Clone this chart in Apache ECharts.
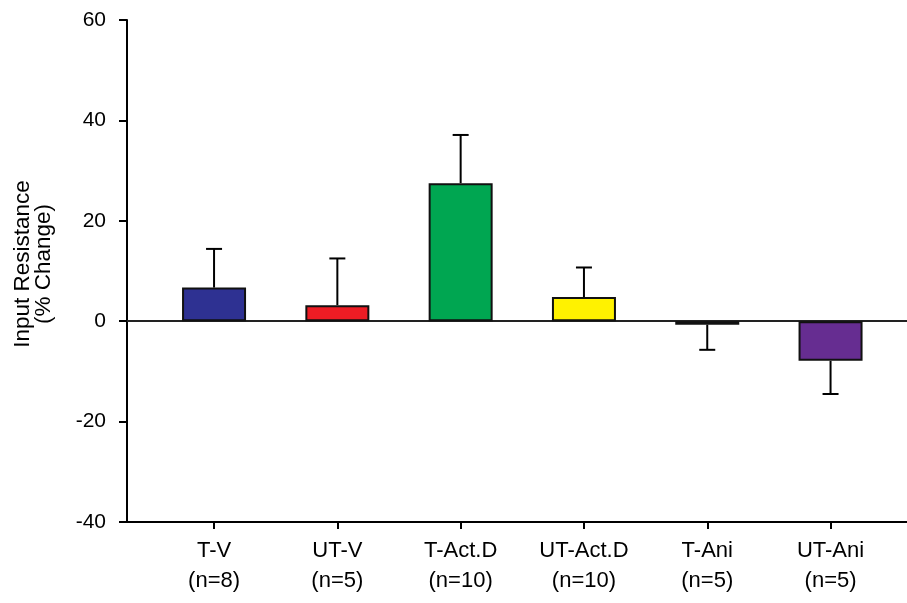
<!DOCTYPE html>
<html>
<head>
<meta charset="utf-8">
<script src="https://cdn.jsdelivr.net/npm/echarts@6/dist/echarts.min.js"></script>
<style>
html,body{margin:0;padding:0;background:#fff;}
#chart{width:907px;height:603px;}
</style>
</head>
<body>
<div id="chart"></div>
<script>
// ---- data ----
const categories = ['T-V', 'UT-V', 'T-Act.D', 'UT-Act.D', 'T-Ani', 'UT-Ani'];
const sampleSizes = ['(n=8)', '(n=5)', '(n=10)', '(n=10)', '(n=5)', '(n=5)'];
const means = [6.7, 3.2, 27.5, 4.8, -0.7, -7.9];
const errors = [7.7, 9.3, 9.6, 5.9, 5.0, 6.6];
const barColors = ['#2E3192', '#ED1C24', '#00A651', '#FFF200', '#9E1F63', '#662D91'];
const yMin = -40, yMax = 60, yStep = 20;
const yTitle = ['Input Resistance', '(% Change)'];

const FONT = 'Liberation Sans, Arial, Helvetica, sans-serif';
const chart = echarts.init(document.getElementById('chart'), null, {renderer: 'canvas'});

const gridTop = 20, gridBottom = 81;
const option = {
  backgroundColor: '#ffffff',
  animation: false,
  grid: [
    {left: 127, right: 0, top: gridTop, bottom: gridBottom},
    {left: 127, right: 0, top: gridTop, bottom: gridBottom},
    {left: 152.4, right: 14.8, top: gridTop, bottom: gridBottom}
  ],
  xAxis: [
    {gridIndex: 0, type: 'value', min: 0, max: 1, position: 'bottom',
     axisLine: {show: true, onZero: false, lineStyle: {color: '#000', width: 2}},
     axisTick: {show: false}, axisLabel: {show: false}, splitLine: {show: false}},
    {gridIndex: 1, type: 'value', min: 0, max: 1,
     axisLine: {show: true, onZero: true, lineStyle: {color: '#222', width: 2}},
     axisTick: {show: false}, axisLabel: {show: false}, splitLine: {show: false}},
    {gridIndex: 2, type: 'category', data: categories, position: 'bottom',
     axisLine: {show: false, onZero: false},
     axisTick: {show: true, alignWithLabel: true, length: 7, lineStyle: {color: '#000', width: 2}},
     axisLabel: {
       show: true, margin: 14, color: '#000', fontFamily: FONT, fontSize: 22, lineHeight: 30,
       formatter: function (v, i) { return v + '\n' + sampleSizes[i]; }
     },
     splitLine: {show: false}}
  ],
  yAxis: [
    {gridIndex: 0, type: 'value', min: yMin, max: yMax, interval: yStep,
     name: yTitle.join('\n'), nameLocation: 'middle', nameGap: 73, nameRotate: 90,
     nameTextStyle: {color: '#000', fontFamily: FONT, fontSize: 22.5, lineHeight: 21, padding: [0, 0, 0, 14]},
     axisLine: {show: true, lineStyle: {color: '#000', width: 2}},
     axisTick: {show: true, length: 8, lineStyle: {color: '#000', width: 2}},
     axisLabel: {color: '#000', fontFamily: FONT, fontSize: 21, margin: 21},
     splitLine: {show: false}},
    {gridIndex: 1, type: 'value', min: yMin, max: yMax, interval: yStep, show: false, splitLine: {show: false}},
    {gridIndex: 2, type: 'value', min: yMin, max: yMax, interval: yStep, show: false, splitLine: {show: false}}
  ],
  series: [
    {
      type: 'bar', xAxisIndex: 2, yAxisIndex: 2, barWidth: 64,
      data: means.map(function (v, i) {
        return {value: v, itemStyle: {color: barColors[i], borderColor: '#111', borderWidth: 2}};
      }),
      z: 3
    },
    {
      type: 'custom', xAxisIndex: 2, yAxisIndex: 2, z: 4,
      data: means.map(function (v, i) { return [i, v, errors[i]]; }),
      renderItem: function (params, api) {
        const x = api.value(0), m = api.value(1), e = api.value(2);
        const end = m >= 0 ? m + e : m - e;
        const p0 = api.coord([x, m]);
        const p1 = api.coord([x, end]);
        const half = 8;
        const st = {stroke: '#000', lineWidth: 2};
        return {
          type: 'group',
          children: [
            {type: 'line', shape: {x1: p0[0], y1: p0[1], x2: p1[0], y2: p1[1]}, style: st},
            {type: 'line', shape: {x1: p1[0] - half, y1: p1[1], x2: p1[0] + half, y2: p1[1]}, style: st}
          ]
        };
      }
    }
  ]
};
chart.setOption(option);
</script>
</body>
</html>
